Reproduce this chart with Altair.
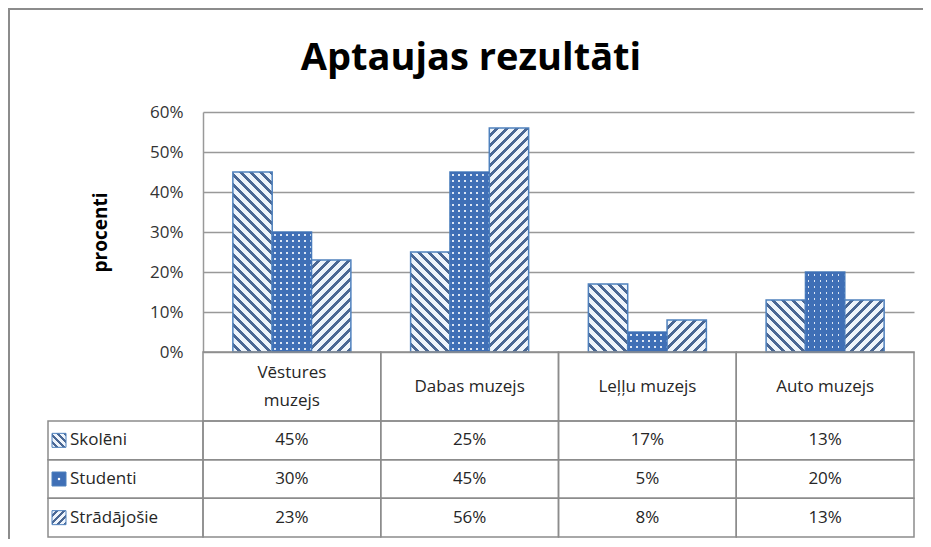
import altair as alt

# ---------------- data ----------------
categories = ["Vēstures muzejs", "Dabas muzejs", "Leļļu muzejs", "Auto muzejs"]
header_labels = ["Vēstures\nmuzejs", "Dabas muzejs", "Leļļu muzejs", "Auto muzejs"]
series = ["Skolēni", "Studenti", "Strādājošie"]
skoleni = [0.45, 0.25, 0.17, 0.13]
studenti = [0.30, 0.45, 0.05, 0.20]
stradajosie = [0.23, 0.56, 0.08, 0.13]
y_ticks = [0.0, 0.1, 0.2, 0.3, 0.4, 0.5, 0.6]
chart_title = "Aptaujas rezultāti"
y_title = "procenti"

# ---------------- layout / style ----------------
W, H = 711, 240
YMAX = 0.6
P_INNER = 0.336
FONT = "Open Sans"
GRID = "#999999"
BORDER = "#8c8c8c"
BAR_STROKE = "#4F81BD"
HATCH_DARK = "#4A6794"
HATCH_LIGHT = "#EEF4FB"
DOT_BASE = "#3F6FB6"
DOT_LIGHT = "#DCE6F4"
CLEAR = "rgba(63,111,182,0)"
TEXT = "#262626"
ROW_TOP, ROW_BOTTOM = 309, 425
LINE_H = 28
EPS = 1e-6

bar_w = W / 4 * (1 - P_INNER) / 3


def hatch(w, h, direction, period=10.0, dark=4.0):
    L = w + h
    k = L / (w * w + h * h)
    if direction == "/":
        x1, y1, x2, y2 = 0, 0, w * k, h * k
    else:
        x1, y1, x2, y2 = 0, 1, w * k, 1 - h * k
    stops = []
    s = 0.0
    while s < L:
        a = s / L
        b = min(s + period - dark, L) / L
        c = min(s + period, L) / L
        stops += [
            {"offset": a, "color": HATCH_LIGHT},
            {"offset": b, "color": HATCH_LIGHT},
            {"offset": b, "color": HATCH_DARK},
            {"offset": c, "color": HATCH_DARK},
        ]
        s += period
    return {"gradient": "linear", "x1": x1, "y1": y1, "x2": x2,
            "y2": y2 if abs(y2) > EPS else EPS, "stops": stops}


def stripes(length, along_x, light_color, period=6.0, light=1.6):
    # thin stripes on the base blue; vertical light stripes covered by a horizontal
    # overlay that is see-through only on its thin stripes leave a grid of dots
    stops = []
    s = 0.0
    while s < length:
        a = s / length
        b = min(s + (period - light) / 2, length) / length
        c = min(s + (period + light) / 2, length) / length
        d = min(s + period, length) / length
        stops += [
            {"offset": a, "color": DOT_BASE},
            {"offset": b, "color": DOT_BASE},
            {"offset": b, "color": light_color},
            {"offset": c, "color": light_color},
            {"offset": c, "color": DOT_BASE},
            {"offset": d, "color": DOT_BASE},
        ]
        s += period
    if along_x:
        return {"gradient": "linear", "x1": 0, "y1": 0, "x2": 1, "y2": EPS, "stops": stops}
    return {"gradient": "linear", "x1": 0, "y1": 0, "x2": EPS, "y2": 1, "stops": stops}


styles = {"Skolēni": "\\", "Studenti": "dots", "Strādājošie": "/"}
values_by_series = {"Skolēni": skoleni, "Studenti": studenti, "Strādājošie": stradajosie}

records = []
for s in series:
    for c, v in zip(categories, values_by_series[s]):
        h = v / YMAX * H
        st = styles[s]
        if st == "dots":
            fill = stripes(bar_w, True, DOT_LIGHT)
            fill2 = stripes(h, False, CLEAR)
        else:
            fill = hatch(bar_w, h, st)
            fill2 = ""
        records.append({"cat": c, "series": s, "value": v, "grad": fill, "grad2": fill2,
                        "dots": st == "dots"})

swatches = []
for s in series:
    st = styles[s]
    fill = DOT_BASE if st == "dots" else hatch(14, 14, st, period=7.0, dark=3.0)
    swatches.append({"series": s, "grad": fill})

bar_data = alt.Data(values=records)
header_data = alt.Data(values=[{"cat": c, "label": l, "lines": l.count("\n") + 1}
                               for c, l in zip(categories, header_labels)])
series_data = alt.Data(values=swatches)
title_data = alt.Data(values=[{"t": chart_title}])
dot_data = alt.Data(values=[{"series": "Studenti"}])

x_bar = alt.X("cat:N", sort=categories, axis=None,
              scale=alt.Scale(domain=categories, paddingInner=P_INNER, paddingOuter=P_INNER / 2))
x_off = alt.XOffset("series:N", sort=series,
                    scale=alt.Scale(domain=series, paddingInner=0, paddingOuter=0))
x_tab = alt.X("cat:N", sort=categories, axis=None,
              scale=alt.Scale(domain=categories, paddingInner=0, paddingOuter=0))
y_row = alt.Y("series:N", sort=series, axis=None,
              scale=alt.Scale(domain=series, range=[ROW_TOP, ROW_BOTTOM], paddingInner=0, paddingOuter=0))

bars = alt.Chart(bar_data).mark_bar(stroke=BAR_STROKE, strokeWidth=1.5).encode(
    x=x_bar,
    xOffset=x_off,
    y=alt.Y("value:Q", scale=alt.Scale(domain=[0, YMAX], nice=False),
            axis=alt.Axis(values=y_ticks, format=".0%", grid=True, gridColor=GRID, gridWidth=1.5,
                          domainColor=GRID, domainWidth=1.5, ticks=False, labelPadding=20,
                          labelFont=FONT, labelFontSize=17, labelColor="#333333",
                          title=y_title, titleFont=FONT, titleFontSize=19, titleFontWeight="bold",
                          titleColor="#000000", titleX=-103, titleY=120, titleAngle=270,
                          titleAlign="center", titleBaseline="middle")),
    fill=alt.Fill("grad:N", scale=None),
)

dot_bars = alt.Chart(bar_data).transform_filter("datum.dots").mark_bar(strokeWidth=0).encode(
    x=x_bar,
    xOffset=x_off,
    y=alt.Y("value:Q", scale=alt.Scale(domain=[0, YMAX], nice=False), axis=None),
    fill=alt.Fill("grad2:N", scale=None),
)

header_cells = alt.Chart(header_data).mark_rect(fill="transparent", stroke=BORDER, strokeWidth=1.5).encode(
    x=x_tab, y=alt.value(240), y2=alt.value(ROW_TOP)
)
header_single = alt.Chart(header_data).transform_filter("datum.lines == 1").mark_text(
    font=FONT, fontSize=17, color=TEXT, baseline="middle").encode(
    x=x_tab, y=alt.value((240 + ROW_TOP) / 2), text="label:N"
)
header_multi = alt.Chart(header_data).transform_filter("datum.lines == 2").mark_text(
    font=FONT, fontSize=17, color=TEXT, lineBreak="\n", baseline="middle", lineHeight=LINE_H,
    dy=-LINE_H / 2).encode(
    x=x_tab, y=alt.value((240 + ROW_TOP) / 2), text="label:N"
)
row_cells = alt.Chart(bar_data).mark_rect(fill="transparent", stroke=BORDER, strokeWidth=1.5).encode(
    x=x_tab, y=y_row
)
row_text = alt.Chart(bar_data).mark_text(font=FONT, fontSize=17, color=TEXT, baseline="middle").encode(
    x=x_tab, y=y_row, text=alt.Text("value:Q", format=".0%")
)
legend_cells = alt.Chart(series_data).mark_rect(fill="transparent", stroke=BORDER, strokeWidth=1.5).encode(
    x=alt.value(-155), x2=alt.value(0), y=y_row
)
legend_swatch = alt.Chart(series_data).mark_point(shape="square", size=196, filled=True,
                                                  stroke=BAR_STROKE, strokeWidth=1, opacity=1).encode(
    x=alt.value(-144), y=y_row, fill=alt.Fill("grad:N", scale=None)
)
legend_dot = alt.Chart(dot_data).mark_point(shape="square", size=5, filled=True, fill="white", opacity=1).encode(
    x=alt.value(-144), y=y_row
)
legend_text = alt.Chart(series_data).mark_text(font=FONT, fontSize=17, color=TEXT, align="left",
                                               baseline="middle").encode(
    x=alt.value(-133), y=y_row, text="series:N"
)
title = alt.Chart(title_data).mark_text(font=FONT, fontSize=38, fontWeight="bold", color="#000000",
                                        align="center", baseline="alphabetic").encode(
    x=alt.value(268), y=alt.value(-42), text="t:N"
)
frame_left = alt.Chart(title_data).mark_rule(color=BORDER, strokeWidth=2).encode(
    x=alt.value(-194), y=alt.value(-104), y2=alt.value(440)
)
frame_top = alt.Chart(title_data).mark_rule(color=BORDER, strokeWidth=2).encode(
    x=alt.value(-195), x2=alt.value(730), y=alt.value(-103)
)

chart = alt.layer(
    bars, dot_bars, header_cells, header_single, header_multi, row_cells, row_text, legend_cells,
    legend_swatch, legend_dot, legend_text, title, frame_left, frame_top
).resolve_scale(x="independent", y="independent").properties(
    width=W, height=H,
    autosize=alt.AutoSizeParams(type="none"),
    padding={"left": 195, "top": 104, "right": 9, "bottom": 187},
    background="white",
).configure_view(stroke="transparent")

chart.save("out.html", embed_options={"renderer": "svg", "actions": False})
